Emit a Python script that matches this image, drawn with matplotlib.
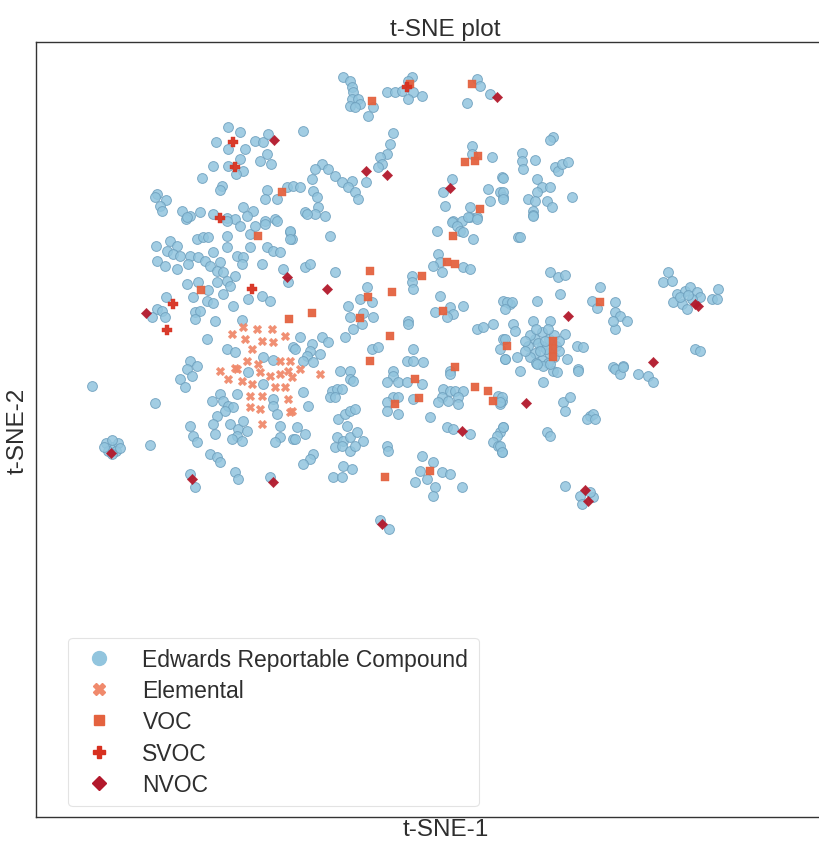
import numpy as np
import matplotlib
matplotlib.use("Agg")
import matplotlib.pyplot as plt
from matplotlib.lines import Line2D

plt.rcParams['font.family'] = ['Liberation Sans', 'DejaVu Sans']

# t-SNE embedding coordinates for each compound class (t-SNE-1, t-SNE-2)
edwards_pts = [
    (228,128),(240,133),(216,143),(228,150),(245,150),(255,142),(263,143),(268,135),(267,155),(260,162),
    (271,165),(213,167),(228,167),(240,160),(243,172),(236,175),(202,179),(222,187),(220,191),(267,191),
    (287,188),(293,187),(265,200),(277,200),(157,195),(155,198),(166,201),(160,207),(162,212),(182,212),
    (190,217),(186,220),(200,213),(213,215),(227,219),(235,220),(243,208),(253,212),(247,217),(265,222),
    (275,220),
    (343,78),(350,82),(352,88),(353,93),(352,100),(358,100),(360,105),(350,107),(355,108),(373,108),
    (368,117),(387,93),(395,93),(402,92),(412,78),(408,82),(413,93),(408,100),(422,97),(477,80),
    (480,87),(490,95),(467,104),(303,132),(393,134),(390,145),(387,155),(380,158),(382,165),(378,168),
    (366,183),(322,165),(315,170),(328,170),(312,180),(335,177),(342,183),(352,182),(348,188),(355,193),
    (358,200),(300,188),(313,192),(317,198),(318,208),(305,213),(315,215),(325,217),(472,147),(472,155),
    (492,158),(452,180),(443,193),(488,190),(502,178),(500,193),(490,202),(503,198),(445,207),(470,208),
    (470,218),(477,218),(453,222),(462,222),
    (553,138),(550,141),(522,154),(522,162),(523,170),(535,161),(555,168),(558,172),(562,165),(568,163),
    (503,179),(503,193),(503,200),(537,180),(542,188),(550,188),(537,193),(528,200),(535,202),(547,202),
    (552,208),(533,212),(533,216),(572,198),
    (187,218),(227,222),(227,237),(240,227),(250,235),(255,227),(265,225),(277,222),(290,233),(292,240),
    (156,247),(170,242),(177,247),(167,252),(173,255),(157,262),(165,267),(177,270),(180,257),(190,257),
    (188,265),(197,240),(203,238),(208,238),(198,258),(205,262),(213,253),(210,267),(220,263),(217,272),
    (227,248),(237,257),(243,258),(242,265),(250,248),(267,248),(273,252),(280,253),(262,265),(223,273),
    (235,277),(227,282),(217,283),(230,287),(187,285),(198,283),(208,291),(193,298),(207,302),(213,304),
    (233,307),(223,295),(248,300),(262,297),(270,302),(283,270),(288,283),(166,298),(157,310),(162,312),
    (165,318),(152,318),(195,313),(200,312),(195,320),(215,322),(242,321),(207,340),(227,350),(235,353),
    (263,358),(273,361),(293,348),(300,338),(190,362),(197,367),
    (307,215),(290,232),(290,240),(330,237),(305,268),(310,265),(335,273),(367,288),(360,300),(372,303),
    (348,307),(363,314),(373,318),(350,318),(362,325),(353,330),(345,338),(322,338),(328,343),(312,345),
    (295,350),(310,352),(320,355),(307,357),(303,362),(313,363),(372,350),(378,348),(340,372),(350,372),
    (393,372),(437,232),(452,223),(457,227),(460,232),(468,218),(477,220),(473,240),(463,233),(438,255),
    (440,263),(433,267),(442,273),(463,268),(470,270),(412,277),(412,283),(413,290),(440,297),(450,308),
    (453,315),(447,318),(435,313),(463,307),(408,322),(408,325),(477,330),(483,328),(493,325),(503,302),
    (510,305),(503,340),(500,350),(505,360),(413,350),(407,362),(413,362),(423,363),(450,372),
    (533,217),(518,238),(520,238),(550,273),(558,278),(565,276),(600,288),(560,295),(592,302),(597,309),
    (537,302),(507,303),(512,303),(505,310),(615,303),(615,313),(620,317),(627,322),(615,330),(613,322),
    (513,325),(533,322),(550,322),(515,332),(565,335),(577,347),(583,348),(505,340),(505,360),(517,358),
    (567,360),(613,368),(623,367),(578,370),(553,372),
    (668,273),(663,283),(672,282),(677,295),(673,303),(685,292),(690,288),(697,293),(700,298),(682,305),
    (687,310),(712,300),(717,300),(718,290),(695,350),(700,352),(680,298),(692,300),(688,296),
    (542,347),(535,340),(549,340),(535,354),(549,354),(528,347),(556,347),(542,333),(542,361),(530,336),
    (554,336),(530,358),(554,358),(525,342),(525,352),(559,342),(559,352),(536,330),(548,330),(536,364),
    (548,364),(538,344),(546,350),(540,352),(545,342),
    (92,387),(155,404),(150,446),(112,448),(106,444),(118,444),(108,452),(116,452),(112,441),(104,448),
    (120,449),(112,455),
    (180,380),(187,370),(192,377),(185,388),(248,373),(263,385),(273,400),(273,407),(277,415),(280,427),
    (280,438),(275,443),(293,440),(212,402),(220,395),(223,402),(228,407),(233,408),(225,412),(217,417),
    (213,425),(237,395),(230,425),(238,430),(243,422),(247,432),(237,437),(242,442),(232,440),(215,435),
    (190,427),(193,437),(197,443),(210,455),(217,458),(220,463),(235,473),(238,480),(190,475),(195,488),
    (270,478),
    (350,380),(353,382),(332,392),(337,390),(342,390),(330,398),(335,398),(303,393),(308,407),(393,377),
    (387,383),(398,383),(407,383),(422,385),(393,398),(398,398),(387,403),(413,400),(387,412),(398,415),
    (430,418),(450,375),(443,390),(450,392),(455,392),(463,392),(442,398),(448,402),(458,398),(458,405),
    (438,403),(498,397),(502,402),(500,405),(338,420),(345,415),(350,412),(355,410),(347,427),(297,428),
    (295,440),(305,435),(337,438),(343,442),(350,438),(357,433),(363,442),(335,448),(342,447),(350,452),
    (355,447),(313,455),(310,460),(303,465),(343,467),(352,470),(333,478),(342,478),(387,447),(388,452),
    (447,428),(453,430),(470,435),(503,428),(500,433),(497,437),(493,443),(498,447),(502,453),(422,457),
    (433,463),(420,472),(442,473),(450,475),(427,480),(415,483),(435,488),(433,497),(462,488),(380,521),
    (389,530),
    (520,372),(543,367),(537,365),(550,365),(557,373),(578,372),(543,383),(615,370),(620,375),(623,368),
    (638,375),(648,377),(653,383),(502,398),(500,403),(563,403),(570,398),(565,412),(590,417),(593,415),
    (587,420),(595,420),(547,433),(550,437),(503,428),(500,447),(502,453),(565,487),(580,497),(593,498),
    (582,505),(590,493),
]

elemental_pts = [
    (232,335),(245,340),(257,330),(272,330),(285,337),(262,342),(273,343),(252,350),(247,362),(235,369),
    (220,372),(258,365),(280,362),(288,372),(228,380),(237,370),(242,382),(250,397),(252,385),(260,373),
    (270,377),(262,397),(250,408),(260,410),(262,425),(275,388),(285,388),(280,375),(292,378),(288,400),
    (290,413),(300,370),(320,375),(292,412),(290,362),(243,328),
]

voc_pts = [
    (282,193),(372,102),(410,85),(472,85),(478,157),(475,162),(465,163),(480,210),(258,237),(201,291),
    (289,320),(370,272),(368,298),(392,293),(312,314),(360,319),(390,337),(370,362),(453,237),(447,263),
    (455,265),(422,277),(443,312),(507,347),(455,368),(600,303),(553,342),(553,350),(553,358),(415,380),
    (395,405),(419,399),(475,388),(488,392),(493,402),(385,478),(430,472),
]

svoc_pts = [(233,143),(235,168),(220,219),(252,290),(173,305),(167,331),(407,88)]

nvoc_pts = [
    (274,141),(497,98),(366,172),(387,176),(450,189),(287,278),(146,314),(327,290),(568,317),(653,363),
    (695,305),(698,307),(111,454),(192,480),(273,483),(462,432),(382,525),(526,404),(585,491),(588,502),
]

class_labels = ["Edwards Reportable Compound", "Elemental", "VOC", "SVOC", "NVOC"]
class_colors = ["#92c5de", "#f08a6c", "#e4623f", "#d7301f", "#b2182b"]
class_markers = ["o", "X", "s", "P", "D"]
class_sizes = [50, 38, 28, 42, 28]

W, H = 820, 845
fig = plt.figure(figsize=(W / 100, H / 100), dpi=100)
# the plotting frame runs past the right edge of the canvas
ax_left, ax_right, ax_top, ax_bottom = 36, 855, 43, 818
ax = fig.add_axes([ax_left / W, (H - ax_bottom) / H,
                   (ax_right - ax_left) / W, (ax_bottom - ax_top) / H])

groups = [edwards_pts, elemental_pts, voc_pts, svoc_pts, nvoc_pts]
for pts, lab, col, mk, sz in zip(groups, class_labels, class_colors, class_markers, class_sizes):
    arr = np.array(pts, dtype=float)
    if mk == "o":
        ax.scatter(arr[:, 0], arr[:, 1], s=sz, c=col, marker=mk, edgecolors="#6d9fbd",
                   linewidths=0.7, alpha=0.85, zorder=2)
    else:
        ax.scatter(arr[:, 0], arr[:, 1], s=sz, c=col, marker=mk, edgecolors=col,
                   linewidths=0.3, alpha=0.95, zorder=3)

ax.set_xlim(ax_left, ax_right)
ax.set_ylim(ax_bottom, ax_top)
ax.set_xticks([])
ax.set_yticks([])
for sp in ax.spines.values():
    sp.set_color("#333333")
    sp.set_linewidth(1.0)

txt = "#2e2e2e"
ax.set_title("t-SNE plot", fontsize=17.5, color=txt, pad=5)
ax.set_xlabel("t-SNE-1", fontsize=17.5, color=txt, labelpad=1)
ax.set_ylabel("t-SNE-2", fontsize=17.5, color=txt, labelpad=5)

handles = [Line2D([], [], linestyle="none", marker=m, color=c, markeredgecolor=c,
                  markersize=ms) for m, c, ms in zip(class_markers, class_colors, [10, 9, 7, 9, 7])]
leg = ax.legend(handles, class_labels, loc="lower left",
                bbox_to_anchor=((68 - ax_left) / (ax_right - ax_left), 0.014),
                borderaxespad=0, fontsize=16.5, frameon=True, labelspacing=0.36,
                handletextpad=1.0, borderpad=0.45, handlelength=1.8)
leg.get_frame().set_edgecolor("#dddddd")
leg.get_frame().set_linewidth(0.8)
for t in leg.get_texts():
    t.set_color(txt)

fig.savefig("out.png", dpi=100)
